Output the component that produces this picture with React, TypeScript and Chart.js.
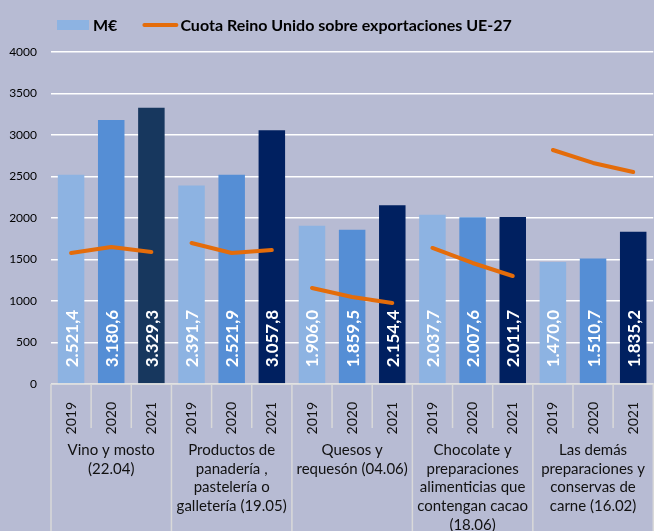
import React, { useEffect, useRef } from "react";
import { Chart, registerables } from "chart.js";
Chart.register(...registerables);

const groupLabels: string[][] = [
  ["Vino y mosto", "(22.04)"],
  ["Productos de", "panadería ,", "pastelería o", "galletería (19.05)"],
  ["Quesos y", "requesón (04.06)"],
  ["Chocolate y", "preparaciones", "alimenticias que", "contengan cacao", "(18.06)"],
  ["Las demás", "preparaciones y", "conservas de", "carne (16.02)"],
];
const years = ["2019", "2020", "2021"];
const valuesMEUR = [
  2521.4, 3180.6, 3329.3,
  2391.7, 2521.9, 3057.8,
  1906.0, 1859.5, 2154.4,
  2037.7, 2007.6, 2011.7,
  1470.0, 1510.7, 1835.2,
];
const cuotaReinoUnido = [
  1578, 1650, 1590,
  1699, 1578, 1614,
  1157, 1048, 976,
  1639, 1458, 1301,
  2819, 2663, 2554,
];
const yTicks = [0, 500, 1000, 1500, 2000, 2500, 3000, 3500, 4000];
const legendBar = "M€";
const legendLine = "Cuota Reino Unido sobre exportaciones UE-27";

const BG = "#B7BBD3";
const ORANGE = "#E46C0A";
const FONT = "Lato, 'Open Sans', sans-serif";
const yearColors = ["#8DB3E2", "#558ED5", "#002060"];
const firstGroupLastColor = "#17375E";

function fmt(v: number): string {
  const [ip, dp] = v.toFixed(1).split(".");
  const withDots = ip.replace(/\B(?=(\d{3})+(?!\d))/g, ".");
  return withDots + "," + dp;
}

const labels: string[] = [];
groupLabels.forEach((g, gi) => years.forEach((y) => labels.push(y)));

const barColors = labels.map((_, i) => {
  if (i === 2) return firstGroupLastColor;
  return yearColors[i % 3];
});

const bgPlugin = {
  id: "bgFill",
  beforeDraw(chart: any) {
    const { ctx, width, height } = chart;
    ctx.save();
    ctx.fillStyle = BG;
    ctx.fillRect(0, 0, width, height);
    ctx.restore();
  },
};

const labelPlugin = {
  id: "barLabels",
  afterDatasetsDraw(chart: any) {
    const { ctx } = chart;
    const meta = chart.getDatasetMeta(0);
    meta.data.forEach((bar: any, i: number) => {
      ctx.save();
      ctx.setTransform(0, -1, 1, 0, bar.x, bar.base - 16);
      ctx.fillStyle = "#FFFFFF";
      ctx.font = "bold 17px " + FONT;
      ctx.textAlign = "left";
      ctx.textBaseline = "middle";
      ctx.fillText(fmt(valuesMEUR[i]), 0, 1);
      ctx.restore();
    });
  },
};

const axisPlugin = {
  id: "multiAxis",
  afterDraw(chart: any) {
    const { ctx, chartArea: area, height } = chart;
    const xs = chart.scales.x;
    const n = labels.length;
    const px = (i: number) => xs.getPixelForValue(i);
    ctx.save();
    ctx.strokeStyle = "#D9D9D9";
    ctx.lineWidth = 1.5;
    ctx.beginPath();
    ctx.moveTo(area.left, area.bottom);
    ctx.lineTo(area.right + 10, area.bottom);
    ctx.stroke();
    for (let i = 0; i <= n; i++) {
      let x: number;
      if (i === 0) x = area.left;
      else if (i === n) x = px(n - 1) + (px(n - 1) - px(n - 2)) / 2;
      else x = (px(i - 1) + px(i)) / 2;
      ctx.beginPath();
      ctx.moveTo(x, area.bottom);
      ctx.lineTo(x, i % 3 === 0 ? height : area.bottom + 44);
      ctx.stroke();
    }
    ctx.fillStyle = "#111";
    ctx.font = "15px " + FONT;
    ctx.textAlign = "center";
    ctx.textBaseline = "middle";
    groupLabels.forEach((lines, gi) => {
      const cx = (px(gi * 3) + px(gi * 3 + 2)) / 2;
      lines.forEach((t, k) => {
        ctx.fillText(t, cx, area.bottom + 66 + k * 18.7);
      });
    });
    ctx.restore();
  },
};

const legendPlugin = {
  id: "customLegend",
  afterDraw(chart: any) {
    const { ctx } = chart;
    ctx.save();
    const y = 25;
    let x = 57;
    ctx.fillStyle = yearColors[0];
    ctx.fillRect(x, y - 5, 32, 10);
    x += 36;
    ctx.fillStyle = "#000";
    ctx.font = "bold 16px " + FONT;
    ctx.textAlign = "left";
    ctx.textBaseline = "middle";
    ctx.fillText(legendBar, x, y + 1);
    x += ctx.measureText(legendBar).width + 27;
    ctx.strokeStyle = ORANGE;
    ctx.lineWidth = 4;
    ctx.lineCap = "round";
    ctx.beginPath();
    ctx.moveTo(x, y);
    ctx.lineTo(x + 32, y);
    ctx.stroke();
    x += 36;
    ctx.fillText(legendLine, x, y + 1);
    ctx.restore();
  },
};

export default function App() {
  const ref = useRef<HTMLCanvasElement | null>(null);
  useEffect(() => {
    if (!ref.current) return;
    const chart = new Chart(ref.current, {
      type: "bar",
      data: {
        labels,
        datasets: [
          {
            type: "bar",
            label: legendBar,
            data: valuesMEUR,
            backgroundColor: barColors,
            borderWidth: 0,
            barPercentage: 0.66,
            categoryPercentage: 1,
            order: 2,
          },
          {
            type: "line",
            label: legendLine,
            data: cuotaReinoUnido,
            borderColor: ORANGE,
            backgroundColor: ORANGE,
            borderWidth: 4,
            borderCapStyle: "round",
            borderJoinStyle: "round",
            pointRadius: 0,
            tension: 0,
            order: 1,
            segment: {
              borderColor: (c: any) =>
                Math.floor(c.p0DataIndex / 3) !== Math.floor(c.p1DataIndex / 3) ? "rgba(0,0,0,0)" : ORANGE,
            },
          } as any,
        ],
      },
      options: {
        animation: false,
        responsive: true,
        maintainAspectRatio: false,
        layout: { padding: { top: 52, left: 0, right: 0, bottom: 0 } },
        plugins: { legend: { display: false }, tooltip: { enabled: false } },
        scales: {
          x: {
            display: true,
            afterFit: (s: any) => {
              s.height = 147;
            },
            ticks: {
              color: "#111",
              font: { family: FONT, size: 14 },
              minRotation: 90,
              maxRotation: 90,
              autoSkip: false,
              padding: 10,
            },
            grid: { display: false },
            border: { display: false },
          },
          y: {
            min: 0,
            max: 4000,
            afterBuildTicks: (s: any) => {
              s.ticks = yTicks.map((v) => ({ value: v }));
            },
            afterFit: (s: any) => {
              s.width = 51;
            },
            ticks: {
              color: "#000",
              font: { family: FONT, size: 12 },
              padding: 14,
              callback: (v: any) => String(v),
            },
            grid: { color: "#FFFFFF", lineWidth: 1.5, drawTicks: false },
            border: { display: false },
          },
        },
      },
      plugins: [bgPlugin, labelPlugin, axisPlugin, legendPlugin],
    });
    return () => chart.destroy();
  }, []);
  return (
    <div style={{ position: "fixed", left: 0, top: 0, width: 654, height: 531, overflow: "hidden", background: BG }}>
      <div style={{ position: "relative", width: 660, height: 531 }}>
        <canvas ref={ref} />
      </div>
    </div>
  );
}
